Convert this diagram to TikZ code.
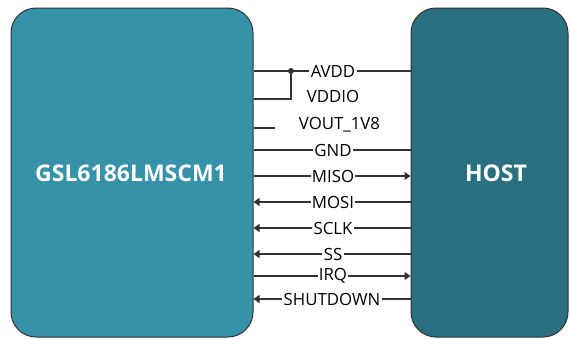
\documentclass[tikz,border=0pt]{standalone}
\usepackage{fontspec}
\setmainfont{Open Sans}
\usetikzlibrary{arrows.meta}
\definecolor{gslfill}{HTML}{3592A8}
\definecolor{hostfill}{HTML}{2A6F7F}
\definecolor{wire}{HTML}{333333}
\tikzset{
  chip/.style={draw=wire, line width=1pt, rounded corners=25pt, inner sep=0pt},
  title/.style={text=white, font=\fontsize{23}{27}\selectfont\bfseries},
  sig/.style={fill=white, inner sep=1.2pt, text=black, font=\fontsize{16.8}{20}\selectfont},
  free/.style={inner sep=1.2pt, text=black, font=\fontsize{16.8}{20}\selectfont},
  wireln/.style={draw=wire, line width=1.2pt},
  tip/.style={-{Triangle[length=6pt,width=8pt]}},
}
\begin{document}
\begin{tikzpicture}[x=1pt,y=-1pt]
\useasboundingbox (0,0) rectangle (570,338);
\node[chip, fill=gslfill, minimum width=242pt, minimum height=329pt] (gsl) at (132,172.5) {};
\node[chip, fill=hostfill, minimum width=157pt, minimum height=329pt] (host) at (489.5,172.5) {};
\node[title] (gsltxt) at (131,173) {GSL6186LMSCM1};
\node[title] (hosttxt) at (496,173) {HOST};
% AVDD / VDDIO
\node[sig] (avdd) at (333,71) {AVDD};
\coordinate (dot) at (291,71);
\draw[wireln] (gsl.east |- dot) -- (dot) -- (avdd) -- (host.west |- avdd);
\fill[wire] (dot) circle (3pt);
\node[free] (vddio) at (333,96) {VDDIO};
\coordinate (vbend) at (291,99);
\draw[wireln] (gsl.east |- vbend) -- (vbend) -- (dot);
\node[free] (vout) at (339.5,125) {VOUT\_1V8};
\coordinate (voutend) at (275,128);
\draw[wireln] (gsl.east |- voutend) -- (voutend);
% signals
\node[sig] (gnd) at (333,150) {GND};
\draw[wireln] (gsl.east |- gnd) -- (gnd) -- (host.west |- gnd);
\node[sig] (miso) at (333,176) {MISO};
\draw[wireln] (gsl.east |- miso) -- (miso);
\draw[wireln, tip] (miso) -- (host.west |- miso);
\node[sig] (mosi) at (333,202) {MOSI};
\draw[wireln] (host.west |- mosi) -- (mosi);
\draw[wireln, tip] (mosi) -- (gsl.east |- mosi);
\node[sig] (sclk) at (333,228) {SCLK};
\draw[wireln] (host.west |- sclk) -- (sclk);
\draw[wireln, tip] (sclk) -- (gsl.east |- sclk);
\node[sig] (ss) at (333,254) {SS};
\draw[wireln] (host.west |- ss) -- (ss);
\draw[wireln, tip] (ss) -- (gsl.east |- ss);
\node[sig] (irq) at (333,276) {IRQ};
\draw[wireln] (gsl.east |- irq) -- (irq);
\draw[wireln, tip] (irq) -- (host.west |- irq);
\node[sig] (shut) at (332,299) {SHUTDOWN};
\draw[wireln] (host.west |- shut) -- (shut);
\draw[wireln, tip] (shut) -- (gsl.east |- shut);
\end{tikzpicture}
\end{document}
